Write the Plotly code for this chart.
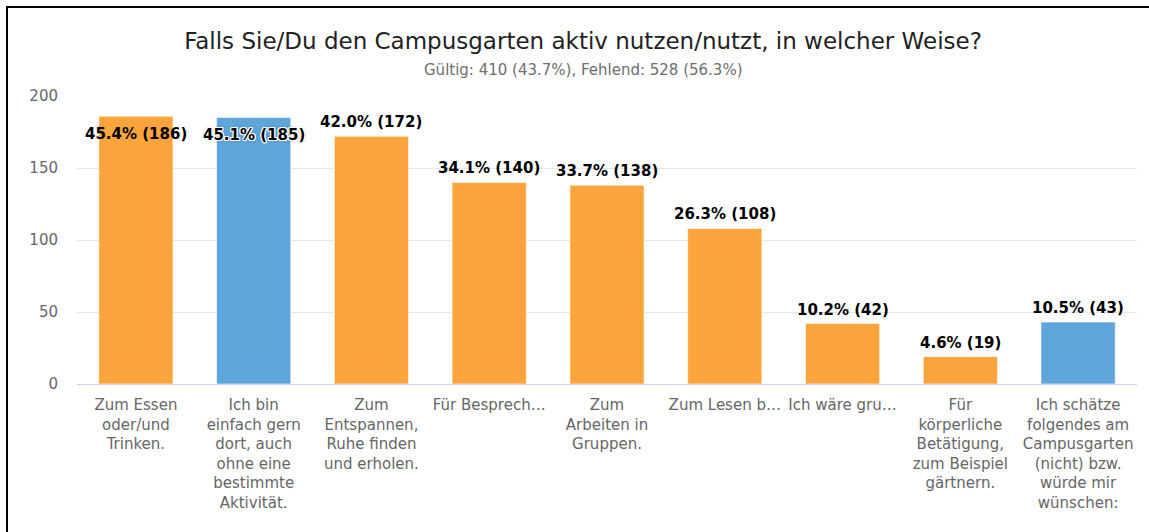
import plotly.graph_objects as go

categories = [
    "Zum Essen<br>oder/und<br>Trinken.",
    "Ich bin<br>einfach gern<br>dort, auch<br>ohne eine<br>bestimmte<br>Aktivität.",
    "Zum<br>Entspannen,<br>Ruhe finden<br>und erholen.",
    "Für Besprech…",
    "Zum<br>Arbeiten in<br>Gruppen.",
    "Zum Lesen b…",
    "Ich wäre gru…",
    "Für<br>körperliche<br>Betätigung,<br>zum Beispiel<br>gärtnern.",
    "Ich schätze<br>folgendes am<br>Campusgarten<br>(nicht) bzw.<br>würde mir<br>wünschen:",
]
counts = [186, 185, 172, 140, 138, 108, 42, 19, 43]
percents = [45.4, 45.1, 42.0, 34.1, 33.7, 26.3, 10.2, 4.6, 10.5]
bar_colors = ["#FBA43C", "#5DA5DA", "#FBA43C", "#FBA43C", "#FBA43C",
              "#FBA43C", "#FBA43C", "#FBA43C", "#5DA5DA"]
y_ticks = [0, 50, 100, 150, 200]

title_text = "Falls Sie/Du den Campusgarten aktiv nutzen/nutzt, in welcher Weise?"
subtitle_text = "Gültig: 410 (43.7%), Fehlend: 528 (56.3%)"

W, H = 1149, 532
ML, MR, MT, MB = 77, 12, 96, 148
ymax = 200
pw = W - ML - MR
ph = H - MT - MB
px_per_unit = ph / ymax


def px_x(px):
    return (px - ML) / pw


def px_y(py):
    return (H - MB - py) / ph


fig = go.Figure()
fig.add_trace(go.Bar(
    x=list(range(len(categories))),
    y=counts,
    marker=dict(color=bar_colors, line=dict(width=1, color="rgba(255,255,255,0.6)")),
    hoverinfo="skip",
))

outline = ("-1px -1px 0 #fff, 1px -1px 0 #fff, -1px 1px 0 #fff, 1px 1px 0 #fff, "
           "0 -1px 0 #fff, 0 1px 0 #fff, -1px 0 0 #fff, 1px 0 0 #fff, 0 0 3px #555")
for i, (c, p) in enumerate(zip(counts, percents)):
    txt = f"{p:.1f}% ({c})"
    fits_above = c * px_per_unit + 24 <= ph
    if fits_above:
        fig.add_annotation(x=i, y=c, xref="x", yref="y", text=txt, showarrow=False,
                           yanchor="middle", yshift=14,
                           font=dict(family="DejaVu Sans", size=15, color="#000000", weight="bold"))
    else:
        shadow = outline if bar_colors[i] == "#5DA5DA" else "none"
        fig.add_annotation(x=i, y=c, xref="x", yref="y", text=txt, showarrow=False,
                           yanchor="middle", yshift=-17.5,
                           font=dict(family="DejaVu Sans", size=15, color="#000000", weight="bold",
                                     shadow=shadow))

# subtitle
fig.add_annotation(x=px_x(583), y=px_y(70), xref="paper", yref="paper", text=subtitle_text,
                   showarrow=False, xanchor="center", yanchor="middle",
                   font=dict(family="DejaVu Sans", size=15, color="#6e6e6e"))

fig.update_layout(
    width=W, height=H,
    margin=dict(l=ML, r=MR, t=MT, b=MB),
    paper_bgcolor="#ffffff", plot_bgcolor="#ffffff",
    bargap=0.37,
    showlegend=False,
    title=dict(text=title_text, x=583 / W, xref="container", xanchor="center",
               y=1 - 41 / H, yref="container", yanchor="middle",
               font=dict(family="DejaVu Sans", size=23, color="#222222")),
    font=dict(family="DejaVu Sans", color="#666666"),
    xaxis=dict(
        tickmode="array", tickvals=list(range(len(categories))), ticktext=categories,
        range=[-0.5, len(categories) - 0.5],
        showgrid=False, zeroline=False,
        showline=True, linecolor="#ccd6eb", linewidth=1,
        ticks="", tickangle=0,
        ticklabelstandoff=7,
        tickfont=dict(family="DejaVu Sans", size=15, color="#666666"),
    ),
    yaxis=dict(
        range=[0, ymax], tickvals=y_ticks,
        showgrid=True, gridcolor="#e6e6e6", gridwidth=1,
        zeroline=False, showline=False, ticks="",
        ticklabelstandoff=18,
        tickfont=dict(family="DejaVu Sans", size=15, color="#666666"),
    ),
)

frame_js = (
    "document.documentElement.style.margin='0';"
    "document.body.style.margin='0';document.body.style.overflow='hidden';"
    "document.documentElement.style.overflow='hidden';"
    "var fr=document.createElement('div');"
    "fr.style.cssText='position:fixed;left:6px;top:6px;width:1200px;height:600px;"
    "border-left:2px solid #000;border-top:2px solid #000;pointer-events:none;z-index:10;';"
    "document.body.appendChild(fr);"
)

fig.write_html("out.html", config={"displayModeBar": False}, post_script=frame_js)
